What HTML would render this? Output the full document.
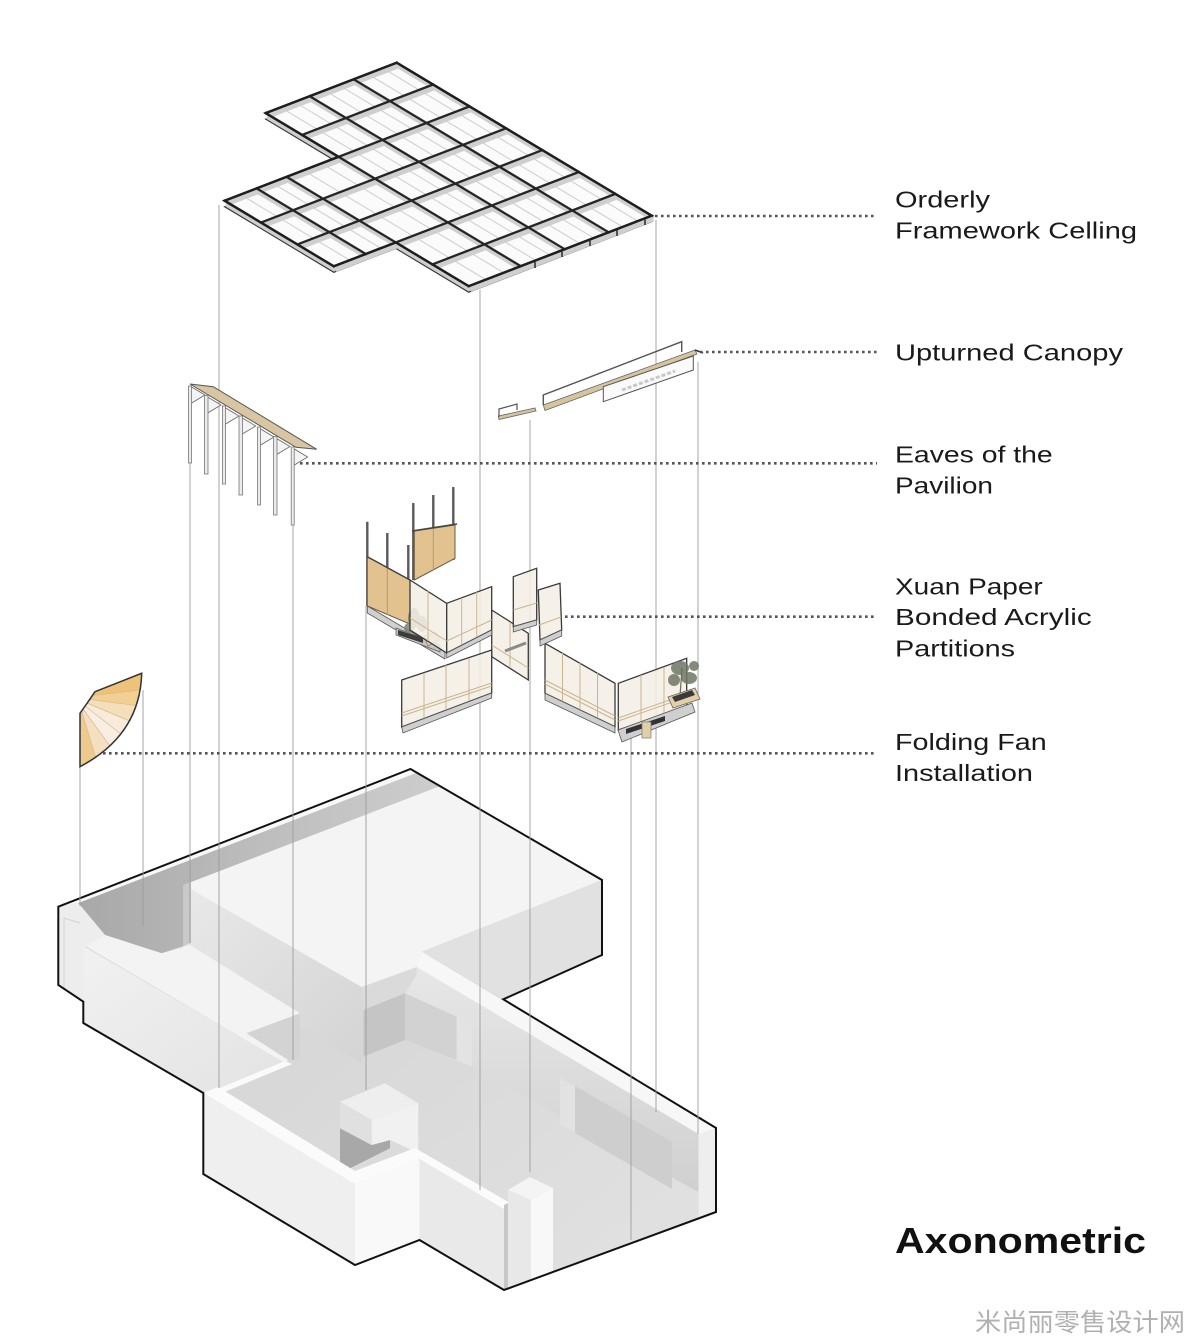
<!DOCTYPE html>
<html><head><meta charset="utf-8"><style>
html,body{margin:0;padding:0;background:#fff;}
svg{display:block;}
text{font-family:"Liberation Sans","Noto Sans CJK SC",sans-serif;}
</style></head><body>
<svg width="1200" height="1337" viewBox="0 0 1200 1337" xmlns="http://www.w3.org/2000/svg">
<defs>
 <linearGradient id="wallR" x1="0" y1="0" x2="0" y2="1"><stop offset="0" stop-color="#e7e7e7"/><stop offset="1" stop-color="#d0d0d0"/></linearGradient>
 <linearGradient id="corr" x1="0" y1="0" x2="1" y2="0"><stop offset="0" stop-color="#a8a8a8"/><stop offset="0.5" stop-color="#bdbdbd"/><stop offset="1" stop-color="#cdcdcd"/></linearGradient>
 <linearGradient id="blkF" x1="0" y1="0" x2="1" y2="1"><stop offset="0" stop-color="#e9e9e9"/><stop offset="1" stop-color="#d4d4d4"/></linearGradient>
 <linearGradient id="flF" x1="0" y1="0" x2="1" y2="1"><stop offset="0" stop-color="#f1f1f1"/><stop offset="1" stop-color="#e3e3e3"/></linearGradient>
 <linearGradient id="floorG" x1="0" y1="0" x2="1" y2="1"><stop offset="0" stop-color="#cfcfcf"/><stop offset="1" stop-color="#e2e2e2"/></linearGradient>
</defs>
<rect width="1200" height="1337" fill="#fff"/>

<!-- ============ BASE ============ -->
<g>
 <polygon points="410.5,769 602,880 602,955 503.3,999.3 716,1128 716,1212 504,1290 419.5,1240 355,1265 203.3,1174 203.3,1093 83.3,1023 83.3,1001.7 58.3,985 58.3,906.7" fill="url(#floorG)"/>
 <!-- right wing inner wall -->
 <polygon points="405,975 416.7,967 698.5,1134 698.5,1192 471.7,1067 405,1040" fill="url(#wallR)"/>
 <polygon points="361.7,987 416.7,967 416.7,975 405,993.3 363.3,1010" fill="#dadada"/>
 <polygon points="363.3,1010 405,993.3 405,1040 363.3,1056.7" fill="#c5c5c5"/>
 <polygon points="405,993.3 456.7,1016.7 456.7,1060 405,1040" fill="#d2d2d2"/>
 <polygon points="456.7,1016.7 471.7,1025 471.7,1067 456.7,1060" fill="#e3e3e3"/>
 <polygon points="560,1078 575,1086 575,1131 560,1126" fill="#e2e2e2"/>
 <polygon points="575,1086 672,1142 672,1189 575,1133" fill="#cecece"/>
 <!-- big block -->
 <polygon points="183.3,885 361.7,987 361.7,1063 183.3,960" fill="url(#blkF)"/>
 <polygon points="183.3,885 440,786 602,880 421.7,951.7 416.7,967 361.7,987" fill="#f4f4f4"/>
 <polygon points="421.7,951.7 602,880 602,955 503.3,999.3" fill="#e1e1e1"/>
 <!-- corridor -->
 <polygon points="78.3,903 416.7,772.7 440,786 183.3,885 183.3,946 161.7,953.3 105,935" fill="url(#corr)"/>
 <polygon points="183.3,885 191,882 191,943 183.3,946" fill="#c9c9c9"/>
 <polygon points="58.3,906.7 410.5,769 416.7,772.7 78.3,903" fill="#f8f8f8"/>
 <!-- left end wall -->
 <polygon points="58.3,906.7 78.3,903 105,935 85,946 83.3,1001.7 58.3,985" fill="#ededed"/>
 <polyline points="64,990 64,918 80,923" fill="none" stroke="#d2d2d2" stroke-width="1"/>
 <!-- front-left wall -->
 <polygon points="85,946 105,935 161.7,953.3 190,945 300,1013.3 246.7,1033.3 288.3,1060 285,1063" fill="#f3f3f3"/>
 <polygon points="246.7,1033.3 300,1013.3 300,1058 288.3,1060" fill="#d3d3d3"/>
 <polygon points="83.3,946 285,1063 220,1089 203.3,1093 83.3,1023" fill="url(#flF)"/>
 <polygon points="285,1061 292,1064 222,1093 215,1090" fill="#fafafa"/>
 <!-- right wing wall top -->
 <polygon points="416.7,967 421.7,951.7 716,1128 716,1131 698.5,1134" fill="#f7f7f7"/>
 <polygon points="698.5,1134 716,1128 716,1212 698.5,1218" fill="#eeeeee"/>
 <!-- cube -->
 <polygon points="340,1128.3 371.7,1145 390,1140 390,1148.3 346.7,1170 340,1166.7" fill="#a8a8a8"/>
 <polygon points="340,1101.7 385,1083.3 418.3,1103.3 371.7,1120" fill="#eeeeee"/>
 <polygon points="340,1101.7 371.7,1120 371.7,1145 340,1128.3" fill="#e0e0e0"/>
 <polygon points="371.7,1120 418.3,1103.3 418.3,1153 390,1140 371.7,1145" fill="#f1f1f1"/>
 <!-- front wall -->
 <polygon points="203.3,1093 355,1184 355,1265 203.3,1174" fill="#efefef"/>
 <polygon points="355,1184 419.5,1159 419.5,1240 355,1265" fill="#f9f9f9"/>
 <polygon points="419.5,1159 504,1209 504,1290 419.5,1240" fill="#e9e9e9"/>
 <polygon points="203.3,1093 218,1087 355,1171 415,1148 510,1203 504,1209 419.5,1159 355,1184" fill="#fbfbfb"/>
 <!-- pillar -->
 <polygon points="504,1205 510,1202 510,1289 504,1290" fill="#c8c8c8"/>
 <polygon points="508,1190 530,1177 553,1188 531,1200" fill="#f4f4f4"/>
 <polygon points="508,1190 531,1200 531,1280 508,1289" fill="#e8e8e8"/>
 <polygon points="531,1200 553,1188 553,1272 531,1280" fill="#f8f8f8"/>
 <!-- outline -->
 <polygon points="410.5,769 602,880 602,955 503.3,999.3 716,1128 716,1212 504,1290 419.5,1240 355,1265 203.3,1174 203.3,1093 83.3,1023 83.3,1001.7 58.3,985 58.3,906.7" fill="none" stroke="#111" stroke-width="2" stroke-linejoin="miter"/>
 <line x1="421.7" y1="951.7" x2="503.3" y2="999.3" stroke="#f7f7f7" stroke-width="0"/>
</g>

<!-- ============ CONNECTOR LINES ============ -->
<g stroke="#9c9c9c" stroke-width="0.9">
 <line x1="80" y1="766" x2="80" y2="906"/>
 <line x1="143" y1="690" x2="143" y2="926"/>
 <line x1="190" y1="463" x2="190" y2="943"/>
 <line x1="219" y1="205" x2="219" y2="1088"/>
 <line x1="293" y1="525" x2="293" y2="1060"/>
 <line x1="366" y1="606" x2="366" y2="1090"/>
 <line x1="480" y1="290" x2="480" y2="1190"/>
 <line x1="530" y1="420" x2="530" y2="1172"/>
 <line x1="631" y1="730" x2="631" y2="1240"/>
 <line x1="656" y1="220" x2="656" y2="1112"/>
 <line x1="698" y1="362" x2="698" y2="1134"/>
</g>

<!-- ============ CEILING ============ -->
<g>
 <polygon points="396.7,68.7 651.7,221.7 468.7,292.2 395.8,248.4 333.8,272.3 224.6,206.7 338.6,162.8 265.7,119.1" fill="#bcbcbc" stroke="#3a3a3a" stroke-width="1.2"/>
 <polygon points="396.7,62.7 651.7,215.7 468.7,286.2 395.8,242.4 333.8,266.3 224.6,200.7 338.6,156.8 265.7,113.1" fill="#fbfbfb"/>
 <g stroke="#cdcdcd" stroke-width="1">
  <line x1="382.7" y1="68.1" x2="637.7" y2="221.1"/>
  <line x1="367.7" y1="73.9" x2="622.7" y2="226.9"/>
  <line x1="338.7" y1="85.0" x2="593.7" y2="238.0"/>
  <line x1="324.7" y1="90.4" x2="579.7" y2="243.4"/>
  <line x1="294.7" y1="102.0" x2="549.7" y2="255.0"/>
  <line x1="280.7" y1="107.4" x2="535.7" y2="260.4"/>
  <line x1="321.6" y1="163.4" x2="503.7" y2="272.7"/>
  <line x1="303.6" y1="170.4" x2="485.7" y2="279.6"/>
  <line x1="271.6" y1="182.6" x2="380.8" y2="248.2"/>
  <line x1="240.6" y1="194.6" x2="349.8" y2="260.2"/>
 </g>
 <g transform="translate(1.5,3.2)" stroke="#cfcfcf" stroke-width="5" fill="none">
  <path d="M396.7,62.7 L651.7,215.7 M353.7,79.3 L608.7,232.3 M309.7,96.2 L564.7,249.2 M265.7,113.1 L520.7,266.1 M286.6,176.9 L468.7,286.2 M256.6,188.4 L365.8,254.0 M224.6,200.7 L333.8,266.3 M396.7,62.7 L265.7,113.1 M433.1,84.5 L302.1,134.9 M469.6,106.4 L224.6,200.7 M506.0,128.3 L261.0,222.6 M542.4,150.1 L297.4,244.4 M578.8,172.0 L333.8,266.3 M615.3,193.9 L432.3,264.4 M651.7,215.7 L468.7,286.2"/>
 </g>
 <g stroke="#252525" stroke-width="2.3" fill="none" stroke-linecap="square">
  <path d="M396.7,62.7 L651.7,215.7 M353.7,79.3 L608.7,232.3 M309.7,96.2 L564.7,249.2 M265.7,113.1 L520.7,266.1 M286.6,176.9 L468.7,286.2 M256.6,188.4 L365.8,254.0 M224.6,200.7 L333.8,266.3 M396.7,62.7 L265.7,113.1 M433.1,84.5 L302.1,134.9 M469.6,106.4 L224.6,200.7 M506.0,128.3 L261.0,222.6 M542.4,150.1 L297.4,244.4 M578.8,172.0 L333.8,266.3 M615.3,193.9 L432.3,264.4 M651.7,215.7 L468.7,286.2"/>
 </g>
 <polygon points="396.7,62.7 651.7,215.7 468.7,286.2 395.8,242.4 333.8,266.3 224.6,200.7 338.6,156.8 265.7,113.1" fill="none" stroke="#1e1e1e" stroke-width="2.4"/>
 <g stroke="#333" stroke-width="1.6">
  <line x1="535" y1="262" x2="535" y2="268"/>
  <line x1="562" y1="251" x2="562" y2="257"/>
  <line x1="590" y1="240" x2="590" y2="246"/>
  <line x1="617" y1="230" x2="617" y2="236"/>
  <line x1="645" y1="219" x2="645" y2="225"/>
 </g>
</g>

<!-- ============ CANOPY ============ -->
<g>
 <polygon points="543.3,405 695,350 697,354 545,410.5" fill="#d6c39f" stroke="#666" stroke-width="0.8"/>
 <polyline points="543.3,405 543.3,395 681.7,341.7 681.7,352" fill="none" stroke="#555" stroke-width="1.4"/>
 <polygon points="603.3,386.7 693.3,356 693.3,370 603.3,401.7" fill="#fafafa" stroke="#555" stroke-width="1"/>
 <line x1="622" y1="390" x2="675" y2="371" stroke="#c9c9c9" stroke-width="3" stroke-dasharray="4 2"/>
 <line x1="695" y1="350" x2="703" y2="353" stroke="#333" stroke-width="1.5"/>
 <polygon points="498.3,416 535,408 536,411 499,419.5" fill="#d6c39f" stroke="#666" stroke-width="0.8"/>
 <polyline points="499,417 499,409 517,404 517,410" fill="none" stroke="#555" stroke-width="1.2"/>
</g>

<!-- ============ EAVES ============ -->
<g>
 <g fill="#f4f4f4" stroke="#666" stroke-width="0.8">
  <polygon points="190,386 205,395 190,404"/>
  <polygon points="206,396 221,405 206,414"/>
  <polygon points="224,407 239,416 224,425"/>
  <polygon points="240.7,417 255.7,426 240.7,435"/>
  <polygon points="259,428 274,437 259,446"/>
  <polygon points="275,437.5 290,446.5 275,455.5"/>
  <polygon points="292.7,448 307.7,457 292.7,466"/>
 </g>
 <g fill="#ebebeb" stroke="#777" stroke-width="0.8">
  <rect x="188.5" y="386" width="3" height="77"/>
  <rect x="204.5" y="395.5" width="3.5" height="78.5"/>
  <rect x="222.5" y="406" width="3" height="78"/>
  <rect x="239" y="416" width="3.5" height="79"/>
  <rect x="257.5" y="427" width="3" height="78"/>
  <rect x="273.5" y="436.5" width="3.5" height="78.5"/>
  <rect x="291.2" y="447" width="3" height="78"/>
 </g>
 <polygon points="190,384 213.3,386.7 316.7,449.3 296,447.3" fill="#d8c6a2" stroke="#555" stroke-width="1"/>
</g>

<!-- ============ FAN ============ -->
<g stroke="none">
 <polygon points="95,691.7 141.7,673.3 140.1,690 92,695.5" fill="#efc27a"/>
 <polygon points="92,695.5 140.1,690 136.2,705.5 89.5,699.5" fill="#f2cf93"/>
 <polygon points="89.5,699.5 136.2,705.5 129.4,720.9 87,703" fill="#f5dfbb"/>
 <polygon points="87,703 129.4,720.9 120.8,733.9 85,706" fill="#f8ebdc"/>
 <polygon points="85,706 120.8,733.9 109.9,745.8 83,709" fill="#f8eee4"/>
 <polygon points="83,709 109.9,745.8 95.7,757.2 81.5,711" fill="#f4dfc0"/>
 <polygon points="81.5,711 95.7,757.2 80,766.7 80,713.3" fill="#efca8e"/>
 <g stroke="#d9b98a" stroke-width="0.7">
  <line x1="92" y1="695.5" x2="140.1" y2="690"/>
  <line x1="89.5" y1="699.5" x2="136.2" y2="705.5"/>
  <line x1="87" y1="703" x2="129.4" y2="720.9"/>
  <line x1="85" y1="706" x2="120.8" y2="733.9"/>
  <line x1="83" y1="709" x2="109.9" y2="745.8"/>
  <line x1="81.5" y1="711" x2="95.7" y2="757.2"/>
 </g>
 <path d="M95,691.7 L141.7,673.3 Q140,735 80,766.7 L80,713.3 Q88,702 95,691.7 Z" fill="none" stroke="#333" stroke-width="1.5"/>
</g>

<!-- ============ PARTITIONS ============ -->
<g>
 <!-- posts -->
 <g stroke="#5a5a5a" stroke-width="2.4">
  <line x1="367.3" y1="521.7" x2="367.3" y2="606"/>
  <line x1="387.3" y1="533" x2="387.3" y2="568"/>
  <line x1="408.3" y1="545" x2="408.3" y2="580"/>
  <line x1="413.3" y1="503" x2="413.3" y2="580"/>
  <line x1="433.3" y1="495" x2="433.3" y2="570"/>
  <line x1="453.3" y1="487" x2="453.3" y2="560"/>
 </g>
 <polygon points="367.3,556.7 410,580 410,624 367.3,606" fill="#e2c38f" stroke="#6b5a40" stroke-width="1"/>
 <line x1="387.3" y1="568" x2="387.3" y2="615" stroke="#b89a6a" stroke-width="1"/>
 <polygon points="414.3,531 455,525 455,558.3 414.3,580" fill="#e2c38f" stroke="#6b5a40" stroke-width="1"/>
 <line x1="433.3" y1="528" x2="433.3" y2="570" stroke="#b89a6a" stroke-width="1"/>
 <line x1="412" y1="531" x2="457" y2="524" stroke="#444" stroke-width="1.6"/>
 <line x1="367.3" y1="556.7" x2="410" y2="580" stroke="#444" stroke-width="1.4"/>
 <!-- left base & planter -->
 <polygon points="367.3,606 445,652 445,659 367.3,613" fill="#d0d0d0" stroke="#555" stroke-width="0.8"/>
 <polygon points="396,628 440,645 440,652 396,635" fill="#c4c4c4" stroke="#555" stroke-width="0.7"/>
 <polygon points="398,630 423,638 423,643 398,635" fill="#3c3c3c"/>
 <g fill="#7b8470" opacity="0.85">
  <ellipse cx="414" cy="618" rx="6" ry="10"/>
  <ellipse cx="422" cy="624" rx="5" ry="8"/>
  <ellipse cx="409" cy="628" rx="5" ry="5"/>
 </g>
 <polygon points="424,636 436,632 440,640 428,646" fill="#e2cfa8" stroke="#777" stroke-width="0.7"/>
 <!-- C panels -->
 <g fill="#f4eee5" fill-opacity="0.88" stroke="#3a3a3a" stroke-width="1.3">
  <polygon points="410,580 446.7,603.3 446.7,653 410,630"/>
  <polygon points="446.7,603.3 491.7,586.7 491.7,630 446.7,653"/>
  <polygon points="491.7,610 528.3,633.3 528.3,680 491.7,656.7"/>
  <polygon points="401.7,680 491.7,650 491.7,693 401.7,727"/>
  <polygon points="513.3,576.7 536.7,568.3 536.7,620 513.3,626.7"/>
  <polygon points="538.3,590 560,583.3 561.7,630 540,640"/>
  <polygon points="545,643.3 615,683.3 615,726.7 545,693.3"/>
  <polygon points="618.3,683.3 686.7,658.3 686.7,706.7 618.3,730"/>
 </g>
 <g stroke="#cbb58f" stroke-width="1" fill="none">
  <line x1="428" y1="591" x2="428" y2="641"/>
  <line x1="410" y1="618" x2="446.7" y2="641"/>
  <line x1="461.7" y1="598" x2="461.7" y2="646"/>
  <line x1="476.7" y1="592" x2="476.7" y2="640"/>
  <line x1="446.7" y1="641" x2="491.7" y2="620"/>
  <line x1="510" y1="622" x2="510" y2="668"/>
  <line x1="491.7" y1="645" x2="528.3" y2="668"/>
  <line x1="424" y1="673" x2="424" y2="719"/>
  <line x1="446" y1="665" x2="446" y2="711"/>
  <line x1="469" y1="658" x2="469" y2="702"/>
  <line x1="401.7" y1="713" x2="491.7" y2="683"/>
  <line x1="401.7" y1="716" x2="491.7" y2="686"/>
  <line x1="513.3" y1="610" x2="536.7" y2="603"/>
  <line x1="539" y1="625" x2="561" y2="617"/>
  <line x1="562.5" y1="653" x2="562.5" y2="702"/>
  <line x1="580" y1="663" x2="580" y2="710"/>
  <line x1="597.5" y1="673" x2="597.5" y2="718"/>
  <line x1="545" y1="680" x2="615" y2="716"/>
  <line x1="545" y1="684" x2="615" y2="720"/>
  <line x1="641" y1="675" x2="641" y2="722"/>
  <line x1="664" y1="667" x2="664" y2="714"/>
  <line x1="618.3" y1="718" x2="686.7" y2="694"/>
  <line x1="618.3" y1="721" x2="686.7" y2="697"/>
 </g>
 <line x1="505" y1="651" x2="526" y2="643" stroke="#8a8a8a" stroke-width="3"/>
 <!-- bases -->
 <g fill="#cfcfcf" stroke="#555" stroke-width="0.8">
  <polygon points="446.7,653 491.7,630 491.7,635 446.7,658"/>
  <polygon points="401.7,727 491.7,693 491.7,698 403,733"/>
  <polygon points="513.3,626.7 536.7,620 536.7,625 513.3,632"/>
  <polygon points="540,640 561.7,630 561.7,636 540,646"/>
  <polygon points="545,693.3 615,726.7 615,733 545,700"/>
  <polygon points="618,730 692,703 695,712 622,742"/>
 </g>
 <!-- right planter & tree -->
 <g fill="#6e7866" opacity="0.85">
  <ellipse cx="680" cy="668" rx="9" ry="7"/>
  <ellipse cx="689" cy="678" rx="8" ry="6"/>
  <ellipse cx="674" cy="680" rx="6" ry="6"/>
  <ellipse cx="694" cy="666" rx="5" ry="5"/>
 </g>
 <line x1="682" y1="668" x2="680" y2="696" stroke="#6a6a5a" stroke-width="1.2"/>
 <polygon points="668,697 695,688 700,699 673,708" fill="#e2cfa8" stroke="#666" stroke-width="0.8"/>
 <polygon points="672,697 692,690 695,695 675,702" fill="#3a3a3a"/>
 <polygon points="626,729 665,716 665,721 626,734" fill="#333"/>
 <rect x="642" y="722" width="9" height="16" fill="#e2cfa8" stroke="#777" stroke-width="0.7"/>
</g>

<!-- ============ LEADERS ============ -->
<g stroke="#555" stroke-width="2.6" stroke-dasharray="2.6 3.4">
 <line x1="655" y1="216" x2="877" y2="216"/>
 <line x1="700" y1="352" x2="877" y2="352"/>
 <line x1="300" y1="463.3" x2="877" y2="463.3"/>
 <line x1="565" y1="616.7" x2="877" y2="616.7"/>
 <line x1="103" y1="753.3" x2="877" y2="753.3"/>
</g>

<!-- ============ TEXT ============ -->
<g fill="#1a1a1a" font-size="23" font-family="Liberation Sans, sans-serif">
 <text x="895" y="207.3" textLength="95" lengthAdjust="spacingAndGlyphs">Orderly</text>
 <text x="895" y="238.3" textLength="242" lengthAdjust="spacingAndGlyphs">Framework Celling</text>
 <text x="895" y="360.7" textLength="228" lengthAdjust="spacingAndGlyphs">Upturned Canopy</text>
 <text x="895" y="462.3" textLength="157.7" lengthAdjust="spacingAndGlyphs">Eaves of the</text>
 <text x="895" y="493.3" textLength="98" lengthAdjust="spacingAndGlyphs">Pavilion</text>
 <text x="895" y="594.3" textLength="147.7" lengthAdjust="spacingAndGlyphs">Xuan Paper</text>
 <text x="895" y="625" textLength="196.7" lengthAdjust="spacingAndGlyphs">Bonded Acrylic</text>
 <text x="895" y="656.7" textLength="120" lengthAdjust="spacingAndGlyphs">Partitions</text>
 <text x="895" y="750" textLength="151.7" lengthAdjust="spacingAndGlyphs">Folding Fan</text>
 <text x="895" y="781" textLength="138" lengthAdjust="spacingAndGlyphs">Installation</text>
</g>
<text x="895" y="1253" font-size="36" font-weight="bold" fill="#111" textLength="251" lengthAdjust="spacingAndGlyphs" font-family="Liberation Sans, sans-serif">Axonometric</text>
<text x="975" y="1331" font-size="25" fill="#b0b0b0" textLength="210" lengthAdjust="spacingAndGlyphs" font-family="Liberation Sans, 'Noto Sans CJK SC', sans-serif">米尚丽零售设计网</text>
</svg>
</body></html>
